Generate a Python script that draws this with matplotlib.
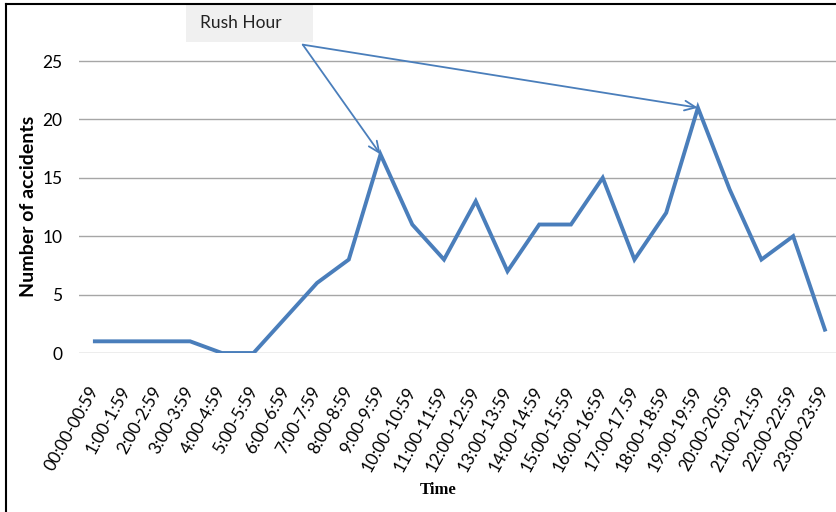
import matplotlib
matplotlib.use("Agg")
import matplotlib.pyplot as plt
from matplotlib.patches import Rectangle
from matplotlib.lines import Line2D

categories = ["00:00-00:59", "1:00-1:59", "2:00-2:59", "3:00-3:59", "4:00-4:59",
              "5:00-5:59", "6:00-6:59", "7:00-7:59", "8:00-8:59", "9:00-9:59",
              "10:00-10:59", "11:00-11:59", "12:00-12:59", "13:00-13:59",
              "14:00-14:59", "15:00-15:59", "16:00-16:59", "17:00-17.59",
              "18:00-18:59", "19:00-19:59", "20:00-20:59", "21:00-21:59",
              "22:00-22:59", "23:00-23:59"]
accidents = [1, 1, 1, 1, 0, 0, 3, 6, 8, 17, 11, 8, 13, 7, 11, 11, 15, 8, 12, 21, 14, 8, 10, 2]
yticks = [0, 5, 10, 15, 20, 25]
rush_idx = [9, 19]

W, H = 836, 512
fig = plt.figure(figsize=(W / 100, H / 100), dpi=100)
ax = fig.add_axes([79 / W, (H - 353) / H, 1 - 79 / W, (353 - 2.6) / H])

line_color = "#4a7ebb"
x = list(range(len(categories)))
ax.plot(x, accidents, color=line_color, lw=2.8, solid_joinstyle="miter", zorder=3)

ax.set_xlim(-0.5, 23.35)
ax.set_ylim(0, 30)
ax.set_yticks(yticks)
ax.set_xticks(x)
ax.set_xticklabels(categories, rotation=61, ha="right", va="center",
                   rotation_mode="anchor", fontsize=12.3, family="Lato")
ax.set_yticklabels([str(v) for v in yticks], fontsize=12.5, family="Lato")
ax.tick_params(axis="y", length=0, pad=12)
ax.tick_params(axis="x", length=0, pad=25)
ax.grid(axis="y", color="#a6a6a6", lw=1)
ax.set_axisbelow(True)
for s in ax.spines.values():
    s.set_visible(False)

# annotation arrows
sx, sy = 6.55, 26.4
for i in rush_idx:
    ax.annotate("", xy=(i, accidents[i]), xytext=(sx, sy),
                arrowprops=dict(arrowstyle="->,head_length=0.8,head_width=0.35",
                                color=line_color, lw=1.3, shrinkA=0, shrinkB=0),
                annotation_clip=False, zorder=4)

# text box
fig.patches.append(Rectangle((186 / W, (H - 42) / H), 127 / W, 38 / H,
                             transform=fig.transFigure, facecolor="#f0f0f0",
                             edgecolor="none", zorder=0))
fig.text(200 / W, (H - 23) / H, "Rush Hour", fontsize=12.5, family="Lato",
         va="center", ha="left", color="#222222")

fig.text(29 / W, (H - 206) / H, "Number of accidents", rotation=90, fontsize=14,
         fontweight="bold", family="Lato", ha="center", va="center")
fig.text(438 / W, (H - 490) / H, "Time", fontsize=12, fontweight="bold",
         family="Liberation Serif", ha="center", va="center")

# chart border (left & top)
fig.add_artist(Line2D([6 / W, 6 / W], [0, (H - 4) / H], transform=fig.transFigure,
                      color="black", lw=1.5))
fig.add_artist(Line2D([6 / W, 1], [(H - 4) / H, (H - 4) / H], transform=fig.transFigure,
                      color="black", lw=1.5))

fig.savefig("out.png", dpi=100)
